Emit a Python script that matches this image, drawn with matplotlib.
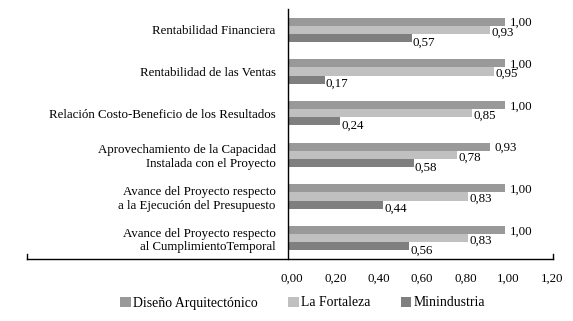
import numpy as np
import matplotlib.pyplot as plt
from matplotlib.lines import Line2D
from matplotlib.transforms import ScaledTranslation

plt.rcParams['font.family'] = ['Liberation Serif', 'DejaVu Serif']

categorias = ['Rentabilidad Financiera',
              'Rentabilidad de las Ventas',
              'Relación Costo-Beneficio de los Resultados',
              'Aprovechamiento de la Capacidad\nInstalada con el Proyecto',
              'Avance del Proyecto respecto\na la Ejecución del Presupuesto',
              'Avance del Proyecto respecto\nal CumplimientoTemporal']
diseno = [1.00, 1.00, 1.00, 0.93, 1.00, 1.00]
fortaleza = [0.93, 0.95, 0.85, 0.78, 0.83, 0.83]
minindustria = [0.57, 0.17, 0.24, 0.58, 0.44, 0.56]
series = ['Diseño Arquitectónico', 'La Fortaleza', 'Minindustria']
colores = ['#999999', '#c0c0c0', '#7f7f7f']
xticks = [0.0, 0.2, 0.4, 0.6, 0.8, 1.0, 1.2]

W, H = 573, 321
fs = 9.3
fig = plt.figure(figsize=(W/100, H/100), dpi=100)
ax = fig.add_axes([288/W, 1-259/H, (548-288)/W, (259-9)/H])

y = np.arange(len(categorias))
h = 0.195
datos = [diseno, fortaleza, minindustria]
offs = [-h, 0, h]
dx_lab = [0.025, 0.008, 0.005]
dy_lab = [0.03, 0.06, 0.11]
for vals, off, c, nombre, dx, dy in zip(datos, offs, colores, series, dx_lab, dy_lab):
    ax.barh(y + off, vals, height=h, color=c, label=nombre)
    for yi, v in zip(y, vals):
        ax.text(v + dx, yi + off + dy, ('%.2f' % v).replace('.', ','),
                va='center', ha='left', fontsize=fs)

ax.set_xlim(0, 1.2)
ax.set_ylim(len(categorias) - 0.5, -0.5)
for s in ['top', 'right', 'bottom']:
    ax.spines[s].set_visible(False)
ax.spines['left'].set_linewidth(1.0)
ax.set_yticks(y)
ax.set_yticklabels(categorias, fontsize=fs, ha='right', multialignment='right')
ax.tick_params(axis='y', length=0, pad=9)
ax.set_xticks(xticks)
ax.set_xticklabels([('%.2f' % t).replace('.', ',') for t in xticks], fontsize=fs)
ax.tick_params(axis='x', length=0, pad=10)
for lab in ax.get_xticklabels():
    lab.set_transform(lab.get_transform() + ScaledTranslation(4/100, 0, fig.dpi_scale_trans))

# linea inferior con marcas en los extremos
yb = 1 - 259/H
yt = 1 - 254/H
fig.add_artist(Line2D([27/W, 553/W], [yb, yb], color='black', lw=1.0))
fig.add_artist(Line2D([27/W, 27/W], [yb, yt], color='black', lw=1.0))
fig.add_artist(Line2D([553/W, 553/W], [yb, yt], color='black', lw=1.0))

fig.legend(loc='center', bbox_to_anchor=(303/W, 1-303/H), ncol=3, frameon=False,
           fontsize=9.9, handlelength=0.75, handleheight=0.75, handletextpad=0.2,
           columnspacing=2.2)

fig.savefig('out.png', dpi=100)
